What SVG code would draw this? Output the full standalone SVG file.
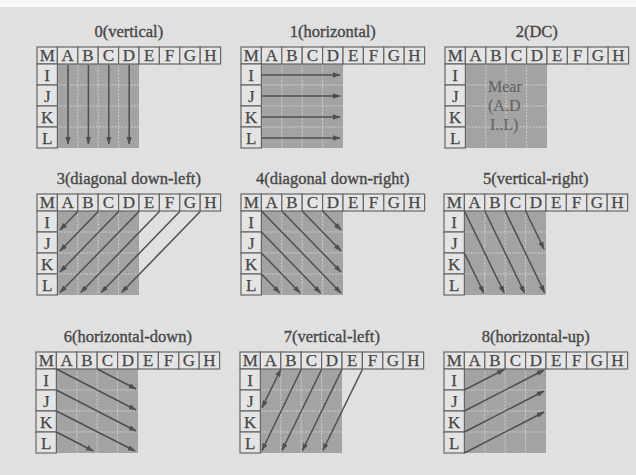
<svg xmlns="http://www.w3.org/2000/svg" width="636" height="475" viewBox="0 0 636 475">
<style>
.bg{fill:#e0e0e0}
.cell{fill:#e4e4e4;stroke:#666;stroke-width:1.2}
.grid{fill:#a3a3a3}
.gl{stroke:#d4d4d4;stroke-width:0.9;stroke-dasharray:2 1.2;fill:none}
.lb{font-family:"Liberation Serif","Times New Roman",serif;font-size:17px;fill:#474747;stroke:#474747;stroke-width:0.25;text-anchor:middle}
.tt{font-family:"Liberation Serif","Times New Roman",serif;font-size:16.5px;fill:#474747;stroke:#474747;stroke-width:0.35;text-anchor:middle}
.dc{font-family:"Liberation Serif","Times New Roman",serif;font-size:16px;fill:#656565;stroke:#656565;stroke-width:0.2}
.ar{stroke:#4f4f4f;stroke-width:1.5;fill:none;marker-end:url(#ah)}
</style>
<defs>
<marker id="ah" viewBox="0 0 8 5.4" markerWidth="8" markerHeight="5.4" refX="7.2" refY="2.7" markerUnits="userSpaceOnUse" orient="auto-start-reverse">
<path d="M0,0 L8,2.7 L0,5.4 z" fill="#4f4f4f"/>
</marker>
</defs>
<rect class="bg" x="0" y="0" width="636" height="475"/>
<rect x="0" y="0" width="636" height="7" fill="#f7f7f7"/>

<!-- Panel 0 -->
<g id="p0" transform="translate(37,47)">
<text class="tt" x="91.8" y="-10">0(vertical)</text>
<rect class="grid" x="20.4" y="17" width="81.6" height="84"/>
<path class="gl" d="M40.8,17V101M61.2,17V101M81.6,17V101M20.4,38H102M20.4,59H102M20.4,80H102"/>
<rect class="cell" x="0" y="0" width="20.4" height="17"/><rect class="cell" x="20.4" y="0" width="20.4" height="17"/><rect class="cell" x="40.8" y="0" width="20.4" height="17"/><rect class="cell" x="61.2" y="0" width="20.4" height="17"/><rect class="cell" x="81.6" y="0" width="20.4" height="17"/><rect class="cell" x="102" y="0" width="20.4" height="17"/><rect class="cell" x="122.4" y="0" width="20.4" height="17"/><rect class="cell" x="142.8" y="0" width="20.4" height="17"/><rect class="cell" x="163.2" y="0" width="20.4" height="17"/>
<rect class="cell" x="0" y="17" width="20.4" height="21"/><rect class="cell" x="0" y="38" width="20.4" height="21"/><rect class="cell" x="0" y="59" width="20.4" height="21"/><rect class="cell" x="0" y="80" width="20.4" height="21"/>
<text class="lb" x="10.2" y="14.3">M</text><text class="lb" x="30.6" y="14.3">A</text><text class="lb" x="51" y="14.3">B</text><text class="lb" x="71.4" y="14.3">C</text><text class="lb" x="91.8" y="14.3">D</text><text class="lb" x="112.2" y="14.3">E</text><text class="lb" x="132.6" y="14.3">F</text><text class="lb" x="153" y="14.3">G</text><text class="lb" x="173.4" y="14.3">H</text>
<text class="lb" x="10.2" y="33.8">I</text><text class="lb" x="10.2" y="54.8">J</text><text class="lb" x="10.2" y="75.8">K</text><text class="lb" x="10.2" y="96.8">L</text>
</g>

<!-- Panel 1 -->
<g id="p1" transform="translate(241,47)">
<text class="tt" x="91.8" y="-10">1(horizontal)</text>
<rect class="grid" x="20.4" y="17" width="81.6" height="84"/>
<path class="gl" d="M40.8,17V101M61.2,17V101M81.6,17V101M20.4,38H102M20.4,59H102M20.4,80H102"/>
<rect class="cell" x="0" y="0" width="20.4" height="17"/><rect class="cell" x="20.4" y="0" width="20.4" height="17"/><rect class="cell" x="40.8" y="0" width="20.4" height="17"/><rect class="cell" x="61.2" y="0" width="20.4" height="17"/><rect class="cell" x="81.6" y="0" width="20.4" height="17"/><rect class="cell" x="102" y="0" width="20.4" height="17"/><rect class="cell" x="122.4" y="0" width="20.4" height="17"/><rect class="cell" x="142.8" y="0" width="20.4" height="17"/><rect class="cell" x="163.2" y="0" width="20.4" height="17"/>
<rect class="cell" x="0" y="17" width="20.4" height="21"/><rect class="cell" x="0" y="38" width="20.4" height="21"/><rect class="cell" x="0" y="59" width="20.4" height="21"/><rect class="cell" x="0" y="80" width="20.4" height="21"/>
<text class="lb" x="10.2" y="14.3">M</text><text class="lb" x="30.6" y="14.3">A</text><text class="lb" x="51" y="14.3">B</text><text class="lb" x="71.4" y="14.3">C</text><text class="lb" x="91.8" y="14.3">D</text><text class="lb" x="112.2" y="14.3">E</text><text class="lb" x="132.6" y="14.3">F</text><text class="lb" x="153" y="14.3">G</text><text class="lb" x="173.4" y="14.3">H</text>
<text class="lb" x="10.2" y="33.8">I</text><text class="lb" x="10.2" y="54.8">J</text><text class="lb" x="10.2" y="75.8">K</text><text class="lb" x="10.2" y="96.8">L</text>
</g>

<!-- Panel 2 -->
<g id="p2" transform="translate(445,47)">
<text class="tt" x="91.8" y="-10">2(DC)</text>
<rect class="grid" x="20.4" y="17" width="81.6" height="84"/>
<path class="gl" d="M40.8,17V101M61.2,17V101M81.6,17V101M20.4,38H102M20.4,59H102M20.4,80H102"/>
<rect class="cell" x="0" y="0" width="20.4" height="17"/><rect class="cell" x="20.4" y="0" width="20.4" height="17"/><rect class="cell" x="40.8" y="0" width="20.4" height="17"/><rect class="cell" x="61.2" y="0" width="20.4" height="17"/><rect class="cell" x="81.6" y="0" width="20.4" height="17"/><rect class="cell" x="102" y="0" width="20.4" height="17"/><rect class="cell" x="122.4" y="0" width="20.4" height="17"/><rect class="cell" x="142.8" y="0" width="20.4" height="17"/><rect class="cell" x="163.2" y="0" width="20.4" height="17"/>
<rect class="cell" x="0" y="17" width="20.4" height="21"/><rect class="cell" x="0" y="38" width="20.4" height="21"/><rect class="cell" x="0" y="59" width="20.4" height="21"/><rect class="cell" x="0" y="80" width="20.4" height="21"/>
<text class="lb" x="10.2" y="14.3">M</text><text class="lb" x="30.6" y="14.3">A</text><text class="lb" x="51" y="14.3">B</text><text class="lb" x="71.4" y="14.3">C</text><text class="lb" x="91.8" y="14.3">D</text><text class="lb" x="112.2" y="14.3">E</text><text class="lb" x="132.6" y="14.3">F</text><text class="lb" x="153" y="14.3">G</text><text class="lb" x="173.4" y="14.3">H</text>
<text class="lb" x="10.2" y="33.8">I</text><text class="lb" x="10.2" y="54.8">J</text><text class="lb" x="10.2" y="75.8">K</text><text class="lb" x="10.2" y="96.8">L</text>
<text class="dc" x="43" y="45">Mear</text>
<text class="dc" x="43" y="64">(A.D</text>
<text class="dc" x="45" y="83">I..L)</text>
</g>

<!-- Panel 3 -->
<g id="p3" transform="translate(37,194)">
<text class="tt" x="91.8" y="-10">3(diagonal down-left)</text>
<rect class="grid" x="20.4" y="17" width="81.6" height="84"/>
<path class="gl" d="M40.8,17V101M61.2,17V101M81.6,17V101M20.4,38H102M20.4,59H102M20.4,80H102"/>
<rect class="cell" x="0" y="0" width="20.4" height="17"/><rect class="cell" x="20.4" y="0" width="20.4" height="17"/><rect class="cell" x="40.8" y="0" width="20.4" height="17"/><rect class="cell" x="61.2" y="0" width="20.4" height="17"/><rect class="cell" x="81.6" y="0" width="20.4" height="17"/><rect class="cell" x="102" y="0" width="20.4" height="17"/><rect class="cell" x="122.4" y="0" width="20.4" height="17"/><rect class="cell" x="142.8" y="0" width="20.4" height="17"/><rect class="cell" x="163.2" y="0" width="20.4" height="17"/>
<rect class="cell" x="0" y="17" width="20.4" height="21"/><rect class="cell" x="0" y="38" width="20.4" height="21"/><rect class="cell" x="0" y="59" width="20.4" height="21"/><rect class="cell" x="0" y="80" width="20.4" height="21"/>
<text class="lb" x="10.2" y="14.3">M</text><text class="lb" x="30.6" y="14.3">A</text><text class="lb" x="51" y="14.3">B</text><text class="lb" x="71.4" y="14.3">C</text><text class="lb" x="91.8" y="14.3">D</text><text class="lb" x="112.2" y="14.3">E</text><text class="lb" x="132.6" y="14.3">F</text><text class="lb" x="153" y="14.3">G</text><text class="lb" x="173.4" y="14.3">H</text>
<text class="lb" x="10.2" y="33.8">I</text><text class="lb" x="10.2" y="54.8">J</text><text class="lb" x="10.2" y="75.8">K</text><text class="lb" x="10.2" y="96.8">L</text>
</g>

<!-- Panel 4 -->
<g id="p4" transform="translate(241,194)">
<text class="tt" x="91.8" y="-10">4(diagonal down-right)</text>
<rect class="grid" x="20.4" y="17" width="81.6" height="84"/>
<path class="gl" d="M40.8,17V101M61.2,17V101M81.6,17V101M20.4,38H102M20.4,59H102M20.4,80H102"/>
<rect class="cell" x="0" y="0" width="20.4" height="17"/><rect class="cell" x="20.4" y="0" width="20.4" height="17"/><rect class="cell" x="40.8" y="0" width="20.4" height="17"/><rect class="cell" x="61.2" y="0" width="20.4" height="17"/><rect class="cell" x="81.6" y="0" width="20.4" height="17"/><rect class="cell" x="102" y="0" width="20.4" height="17"/><rect class="cell" x="122.4" y="0" width="20.4" height="17"/><rect class="cell" x="142.8" y="0" width="20.4" height="17"/><rect class="cell" x="163.2" y="0" width="20.4" height="17"/>
<rect class="cell" x="0" y="17" width="20.4" height="21"/><rect class="cell" x="0" y="38" width="20.4" height="21"/><rect class="cell" x="0" y="59" width="20.4" height="21"/><rect class="cell" x="0" y="80" width="20.4" height="21"/>
<text class="lb" x="10.2" y="14.3">M</text><text class="lb" x="30.6" y="14.3">A</text><text class="lb" x="51" y="14.3">B</text><text class="lb" x="71.4" y="14.3">C</text><text class="lb" x="91.8" y="14.3">D</text><text class="lb" x="112.2" y="14.3">E</text><text class="lb" x="132.6" y="14.3">F</text><text class="lb" x="153" y="14.3">G</text><text class="lb" x="173.4" y="14.3">H</text>
<text class="lb" x="10.2" y="33.8">I</text><text class="lb" x="10.2" y="54.8">J</text><text class="lb" x="10.2" y="75.8">K</text><text class="lb" x="10.2" y="96.8">L</text>
</g>

<!-- Panel 5 -->
<g id="p5" transform="translate(444,194)">
<text class="tt" x="91.8" y="-10">5(vertical-right)</text>
<rect class="grid" x="20.4" y="17" width="81.6" height="84"/>
<path class="gl" d="M40.8,17V101M61.2,17V101M81.6,17V101M20.4,38H102M20.4,59H102M20.4,80H102"/>
<rect class="cell" x="0" y="0" width="20.4" height="17"/><rect class="cell" x="20.4" y="0" width="20.4" height="17"/><rect class="cell" x="40.8" y="0" width="20.4" height="17"/><rect class="cell" x="61.2" y="0" width="20.4" height="17"/><rect class="cell" x="81.6" y="0" width="20.4" height="17"/><rect class="cell" x="102" y="0" width="20.4" height="17"/><rect class="cell" x="122.4" y="0" width="20.4" height="17"/><rect class="cell" x="142.8" y="0" width="20.4" height="17"/><rect class="cell" x="163.2" y="0" width="20.4" height="17"/>
<rect class="cell" x="0" y="17" width="20.4" height="21"/><rect class="cell" x="0" y="38" width="20.4" height="21"/><rect class="cell" x="0" y="59" width="20.4" height="21"/><rect class="cell" x="0" y="80" width="20.4" height="21"/>
<text class="lb" x="10.2" y="14.3">M</text><text class="lb" x="30.6" y="14.3">A</text><text class="lb" x="51" y="14.3">B</text><text class="lb" x="71.4" y="14.3">C</text><text class="lb" x="91.8" y="14.3">D</text><text class="lb" x="112.2" y="14.3">E</text><text class="lb" x="132.6" y="14.3">F</text><text class="lb" x="153" y="14.3">G</text><text class="lb" x="173.4" y="14.3">H</text>
<text class="lb" x="10.2" y="33.8">I</text><text class="lb" x="10.2" y="54.8">J</text><text class="lb" x="10.2" y="75.8">K</text><text class="lb" x="10.2" y="96.8">L</text>
</g>

<!-- Panel 6 -->
<g id="p6" transform="translate(36,352)">
<text class="tt" x="91.8" y="-10">6(horizontal-down)</text>
<rect class="grid" x="20.4" y="17" width="81.6" height="84"/>
<path class="gl" d="M40.8,17V101M61.2,17V101M81.6,17V101M20.4,38H102M20.4,59H102M20.4,80H102"/>
<rect class="cell" x="0" y="0" width="20.4" height="17"/><rect class="cell" x="20.4" y="0" width="20.4" height="17"/><rect class="cell" x="40.8" y="0" width="20.4" height="17"/><rect class="cell" x="61.2" y="0" width="20.4" height="17"/><rect class="cell" x="81.6" y="0" width="20.4" height="17"/><rect class="cell" x="102" y="0" width="20.4" height="17"/><rect class="cell" x="122.4" y="0" width="20.4" height="17"/><rect class="cell" x="142.8" y="0" width="20.4" height="17"/><rect class="cell" x="163.2" y="0" width="20.4" height="17"/>
<rect class="cell" x="0" y="17" width="20.4" height="21"/><rect class="cell" x="0" y="38" width="20.4" height="21"/><rect class="cell" x="0" y="59" width="20.4" height="21"/><rect class="cell" x="0" y="80" width="20.4" height="21"/>
<text class="lb" x="10.2" y="14.3">M</text><text class="lb" x="30.6" y="14.3">A</text><text class="lb" x="51" y="14.3">B</text><text class="lb" x="71.4" y="14.3">C</text><text class="lb" x="91.8" y="14.3">D</text><text class="lb" x="112.2" y="14.3">E</text><text class="lb" x="132.6" y="14.3">F</text><text class="lb" x="153" y="14.3">G</text><text class="lb" x="173.4" y="14.3">H</text>
<text class="lb" x="10.2" y="33.8">I</text><text class="lb" x="10.2" y="54.8">J</text><text class="lb" x="10.2" y="75.8">K</text><text class="lb" x="10.2" y="96.8">L</text>
</g>

<!-- Panel 7 -->
<g id="p7" transform="translate(240,352)">
<text class="tt" x="91.8" y="-10">7(vertical-left)</text>
<rect class="grid" x="20.4" y="17" width="81.6" height="84"/>
<path class="gl" d="M40.8,17V101M61.2,17V101M81.6,17V101M20.4,38H102M20.4,59H102M20.4,80H102"/>
<rect class="cell" x="0" y="0" width="20.4" height="17"/><rect class="cell" x="20.4" y="0" width="20.4" height="17"/><rect class="cell" x="40.8" y="0" width="20.4" height="17"/><rect class="cell" x="61.2" y="0" width="20.4" height="17"/><rect class="cell" x="81.6" y="0" width="20.4" height="17"/><rect class="cell" x="102" y="0" width="20.4" height="17"/><rect class="cell" x="122.4" y="0" width="20.4" height="17"/><rect class="cell" x="142.8" y="0" width="20.4" height="17"/><rect class="cell" x="163.2" y="0" width="20.4" height="17"/>
<rect class="cell" x="0" y="17" width="20.4" height="21"/><rect class="cell" x="0" y="38" width="20.4" height="21"/><rect class="cell" x="0" y="59" width="20.4" height="21"/><rect class="cell" x="0" y="80" width="20.4" height="21"/>
<text class="lb" x="10.2" y="14.3">M</text><text class="lb" x="30.6" y="14.3">A</text><text class="lb" x="51" y="14.3">B</text><text class="lb" x="71.4" y="14.3">C</text><text class="lb" x="91.8" y="14.3">D</text><text class="lb" x="112.2" y="14.3">E</text><text class="lb" x="132.6" y="14.3">F</text><text class="lb" x="153" y="14.3">G</text><text class="lb" x="173.4" y="14.3">H</text>
<text class="lb" x="10.2" y="33.8">I</text><text class="lb" x="10.2" y="54.8">J</text><text class="lb" x="10.2" y="75.8">K</text><text class="lb" x="10.2" y="96.8">L</text>
</g>

<!-- Panel 8 -->
<g id="p8" transform="translate(444,352)">
<text class="tt" x="91.8" y="-10">8(horizontal-up)</text>
<rect class="grid" x="20.4" y="17" width="81.6" height="84"/>
<path class="gl" d="M40.8,17V101M61.2,17V101M81.6,17V101M20.4,38H102M20.4,59H102M20.4,80H102"/>
<rect class="cell" x="0" y="0" width="20.4" height="17"/><rect class="cell" x="20.4" y="0" width="20.4" height="17"/><rect class="cell" x="40.8" y="0" width="20.4" height="17"/><rect class="cell" x="61.2" y="0" width="20.4" height="17"/><rect class="cell" x="81.6" y="0" width="20.4" height="17"/><rect class="cell" x="102" y="0" width="20.4" height="17"/><rect class="cell" x="122.4" y="0" width="20.4" height="17"/><rect class="cell" x="142.8" y="0" width="20.4" height="17"/><rect class="cell" x="163.2" y="0" width="20.4" height="17"/>
<rect class="cell" x="0" y="17" width="20.4" height="21"/><rect class="cell" x="0" y="38" width="20.4" height="21"/><rect class="cell" x="0" y="59" width="20.4" height="21"/><rect class="cell" x="0" y="80" width="20.4" height="21"/>
<text class="lb" x="10.2" y="14.3">M</text><text class="lb" x="30.6" y="14.3">A</text><text class="lb" x="51" y="14.3">B</text><text class="lb" x="71.4" y="14.3">C</text><text class="lb" x="91.8" y="14.3">D</text><text class="lb" x="112.2" y="14.3">E</text><text class="lb" x="132.6" y="14.3">F</text><text class="lb" x="153" y="14.3">G</text><text class="lb" x="173.4" y="14.3">H</text>
<text class="lb" x="10.2" y="33.8">I</text><text class="lb" x="10.2" y="54.8">J</text><text class="lb" x="10.2" y="75.8">K</text><text class="lb" x="10.2" y="96.8">L</text>
</g>

<!-- Connectors -->
<g id="connectors">
<g transform="translate(37,47)">
<path class="ar" d="M31,18V97"/><path class="ar" d="M51.4,18V97"/><path class="ar" d="M71.8,18V97"/><path class="ar" d="M92.2,18V97"/>
</g>
<g transform="translate(241,47)">
<path class="ar" d="M21,28H99"/><path class="ar" d="M21,49H99"/><path class="ar" d="M21,70H99"/><path class="ar" d="M21,91H99"/>
</g>
<g transform="translate(37,194)">
<path class="ar" d="M40.8,17.5L23,36"/><path class="ar" d="M61.2,17.5L23,57"/><path class="ar" d="M81.6,17.5L23,78"/><path class="ar" d="M102,17.5L23,98.5"/>
<path class="ar" d="M122.4,17.5L43.8,98.5"/><path class="ar" d="M142.8,17.5L64.2,98.5"/><path class="ar" d="M163.2,17.5L84.6,98.5"/>
</g>
<g transform="translate(241,194)">
<path class="ar" d="M20.4,17L100,99"/><path class="ar" d="M40.8,17L100,78"/><path class="ar" d="M61.2,17L100,57"/><path class="ar" d="M81.6,17L100,36"/>
<path class="ar" d="M20.4,38L79.6,99"/><path class="ar" d="M20.4,59L59.2,99"/><path class="ar" d="M20.4,80L38.8,99"/>
</g>
<g transform="translate(444,194)">
<path class="ar" d="M20.4,17L60.2,99"/><path class="ar" d="M40.8,17L80.6,99"/><path class="ar" d="M61.2,17L100.5,98.5"/><path class="ar" d="M81.6,17L100,55"/>
<path class="ar" d="M20.4,59L39.8,99"/>
</g>
<g transform="translate(36,352)">
<path class="ar" d="M61.2,17L100,37"/><path class="ar" d="M20.4,17L100,58"/><path class="ar" d="M20.4,38L100,79"/><path class="ar" d="M20.4,59L99,99"/><path class="ar" d="M20.4,80L57.3,99"/>
</g>
<g transform="translate(240,352)">
<path class="ar" d="M40.8,17.5L22,55.7" style="marker-start:url(#ah)"/><path class="ar" d="M61.2,17.5L22,98.5"/><path class="ar" d="M81.6,17.5L42,98.5"/><path class="ar" d="M102,17.5L62.4,98.5"/><path class="ar" d="M122.4,17.5L82.8,98.5"/>
</g>
<g transform="translate(444,352)">
<path class="ar" d="M20.4,38L60.2,17.5"/><path class="ar" d="M20.4,59L100,18"/><path class="ar" d="M20.4,80L100,39"/><path class="ar" d="M20.4,101L100,60"/>
</g>
</g>
</svg>
